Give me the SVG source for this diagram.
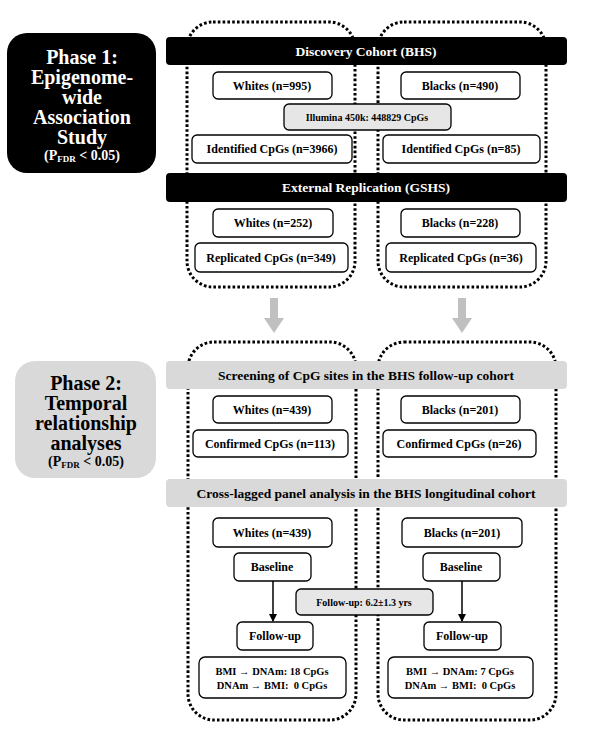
<svg xmlns="http://www.w3.org/2000/svg" width="594" height="738" viewBox="0 0 594 738">
<defs>
<style>
text{font-family:"Liberation Serif","Times New Roman",serif;font-weight:bold;text-anchor:middle;fill:#000}
.dot{fill:none;stroke:#000;stroke-width:3;stroke-dasharray:2.6 2.2}
.box{fill:#fff;stroke:#000;stroke-width:1.3}
.gbox{fill:#e6e6e6;stroke:#000;stroke-width:1.3}
.bar{fill:#000}
.gbar{fill:#d9d9d9}
.t12{font-size:12px}
.t13{font-size:13.5px}
.t10{font-size:10px}
.ph{font-size:20px}
.wt{fill:#fff}
.conn{stroke:#000;stroke-width:1.5;fill:none}
</style>
<marker id="ah" markerWidth="8" markerHeight="8" refX="7" refY="4" orient="auto" markerUnits="userSpaceOnUse"><path d="M0,0 L8,4 L0,8 Z" fill="#000"/></marker>
</defs>
<rect width="594" height="738" fill="#fff"/>

<g id="containers">
<rect class="dot" x="187" y="22" width="168" height="265" rx="26"/>
<rect class="dot" x="378" y="22" width="168" height="265" rx="26"/>
<rect class="dot" x="188" y="342" width="168" height="378" rx="26"/>
<rect class="dot" x="378" y="342" width="178" height="378" rx="26"/>
</g>

<g id="phase1">
<rect x="7" y="33" width="149" height="140" rx="20" fill="#000"/>
<text class="ph wt" x="82" y="64">Phase 1:</text>
<text class="ph wt" x="82" y="84">Epigenome-</text>
<text class="ph wt" x="82" y="104">wide</text>
<text class="ph wt" x="82" y="124">Association</text>
<text class="ph wt" x="82" y="144">Study</text>
<text class="wt" x="82" y="160" style="font-size:14px">(P<tspan style="font-size:9px" dy="2">FDR</tspan><tspan dy="-2"> &lt; 0.05)</tspan></text>
</g>

<g id="discovery">
<rect class="bar" x="166" y="37" width="401" height="28" rx="4"/>
<text class="t13 wt" x="366" y="56">Discovery Cohort (BHS)</text>
</g>
<g id="whites995"><rect class="box" x="213" y="72" width="119" height="27" rx="5"/><text class="t12" x="272" y="90">Whites (n=995)</text></g>
<g id="blacks490"><rect class="box" x="401" y="72" width="119" height="27" rx="5"/><text class="t12" x="460" y="90">Blacks (n=490)</text></g>
<g id="illumina"><rect class="gbox" x="284" y="104" width="167" height="26" rx="5"/><text class="t10" x="367" y="121">Illumina 450k: 448829 CpGs</text></g>
<g id="ident3966"><rect class="box" x="192" y="135" width="160" height="28" rx="5"/><text class="t12" x="272" y="153">Identified CpGs (n=3966)</text></g>
<g id="ident85"><rect class="box" x="383" y="135" width="157" height="28" rx="5"/><text class="t12" x="461" y="153">Identified CpGs (n=85)</text></g>

<g id="replication">
<rect class="bar" x="166" y="173" width="401" height="29" rx="4"/>
<text class="t13 wt" x="366" y="192">External Replication (GSHS)</text>
</g>
<g id="whites252"><rect class="box" x="213" y="209" width="120" height="28" rx="5"/><text class="t12" x="273" y="227">Whites (n=252)</text></g>
<g id="blacks228"><rect class="box" x="401" y="209" width="119" height="28" rx="5"/><text class="t12" x="460" y="227">Blacks (n=228)</text></g>
<g id="repl349"><rect class="box" x="195" y="243" width="153" height="29" rx="5"/><text class="t12" x="271" y="262">Replicated CpGs (n=349)</text></g>
<g id="repl36"><rect class="box" x="386" y="243" width="150" height="29" rx="5"/><text class="t12" x="461" y="262">Replicated CpGs (n=36)</text></g>

<g id="phase2">
<rect x="15" y="361" width="141" height="117" rx="20" fill="#d9d9d9"/>
<text class="ph" x="86" y="390">Phase 2:</text>
<text class="ph" x="86" y="410">Temporal</text>
<text class="ph" x="86" y="430">relationship</text>
<text class="ph" x="86" y="450">analyses</text>
<text x="86" y="466" style="font-size:14px">(P<tspan style="font-size:9px" dy="2">FDR</tspan><tspan dy="-2"> &lt; 0.05)</tspan></text>
</g>

<g id="screening">
<rect class="gbar" x="166" y="361" width="401" height="28" rx="4"/>
<text class="t13" x="366" y="380">Screening of CpG sites in the BHS follow-up cohort</text>
</g>
<g id="whites439a"><rect class="box" x="213" y="396" width="119" height="27" rx="5"/><text class="t12" x="272" y="414">Whites (n=439)</text></g>
<g id="blacks201a"><rect class="box" x="401" y="396" width="119" height="27" rx="5"/><text class="t12" x="460" y="414">Blacks (n=201)</text></g>
<g id="conf113"><rect class="box" x="193" y="430" width="155" height="27" rx="5"/><text class="t12" x="270" y="448">Confirmed CpGs (n=113)</text></g>
<g id="conf26"><rect class="box" x="383" y="430" width="153" height="27" rx="5"/><text class="t12" x="459" y="448">Confirmed CpGs (n=26)</text></g>

<g id="crosslagged">
<rect class="gbar" x="166" y="479" width="401" height="28" rx="4"/>
<text class="t13" x="366" y="498">Cross-lagged panel analysis in the BHS longitudinal cohort</text>
</g>
<g id="whites439b"><rect class="box" x="213" y="518" width="119" height="29" rx="5"/><text class="t12" x="272" y="537">Whites (n=439)</text></g>
<g id="blacks201b"><rect class="box" x="402" y="518" width="120" height="29" rx="5"/><text class="t12" x="462" y="537">Blacks (n=201)</text></g>
<g id="baselineW"><rect class="box" x="234" y="553" width="77" height="28" rx="5"/><text class="t12" x="272" y="571">Baseline</text></g>
<g id="baselineB"><rect class="box" x="423" y="553" width="77" height="28" rx="5"/><text class="t12" x="461" y="571">Baseline</text></g>
<g id="followupNote"><rect class="gbox" x="296" y="589" width="137" height="26" rx="5"/><text class="t10" x="364" y="606">Follow-up: 6.2±1.3 yrs</text></g>
<g id="followW"><rect class="box" x="237" y="622" width="76" height="28" rx="5"/><text class="t12" x="275" y="640">Follow-up</text></g>
<g id="followB"><rect class="box" x="424" y="622" width="77" height="28" rx="5"/><text class="t12" x="462" y="640">Follow-up</text></g>
<g id="resultW"><rect class="box" x="199" y="657" width="147" height="41" rx="6"/>
<text class="t10" x="272" y="675" style="font-size:10.5px">BMI → DNAm: 18 CpGs</text>
<text class="t10" x="272" y="689" style="font-size:10.5px">DNAm → BMI: &#160;0 CpGs</text></g>
<g id="resultB"><rect class="box" x="388" y="657" width="145" height="41" rx="6"/>
<text class="t10" x="460" y="675" style="font-size:10.5px">BMI → DNAm: 7 CpGs</text>
<text class="t10" x="460" y="689" style="font-size:10.5px">DNAm → BMI: &#160;0 CpGs</text></g>

<g id="connectors">
<path d="M270,298 h8 v20 h6 l-10,15 l-10,-15 h6 z" fill="#c0c0c0"/>
<path d="M458,298 h8 v20 h6 l-10,15 l-10,-15 h6 z" fill="#c0c0c0"/>
<line class="conn" x1="273" y1="581" x2="273" y2="621" marker-end="url(#ah)"/>
<line class="conn" x1="462" y1="581" x2="462" y2="621" marker-end="url(#ah)"/>
</g>
</svg>
